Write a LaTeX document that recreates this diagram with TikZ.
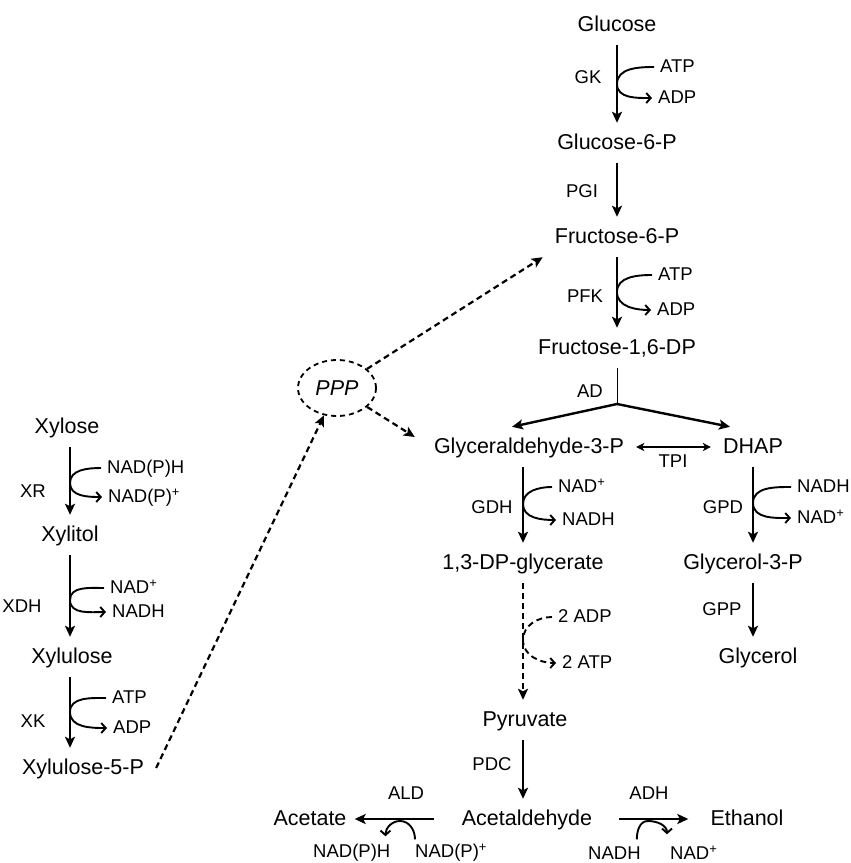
\documentclass[tikz,border=0pt]{standalone}
\usepackage{fontspec}
\setmainfont{Liberation Sans}
\usepackage{tikz}
\usetikzlibrary{arrows.meta,shapes.geometric}

\newcommand{\metsize}{\fontsize{21.5}{24}\selectfont}
\newcommand{\cofsize}{\fontsize{18.5}{21}\selectfont}
\newcommand{\ox}{\textsuperscript{+}}

\begin{document}
\begin{tikzpicture}[
  x=1pt, y=1pt,
  met/.style={font=\metsize, text height=16pt, text depth=4pt, inner xsep=12pt, inner ysep=10pt},
  enz/.style={font=\cofsize, text height=14pt, text depth=3pt, inner sep=1pt},
  cof/.style={font=\cofsize, text height=14pt, text depth=3pt, inner xsep=6pt, inner ysep=1pt, anchor=west},
  pppnode/.style={ellipse, draw, line width=1.8pt, dash pattern=on 5pt off 4pt, minimum width=78pt, minimum height=56pt, inner sep=0pt, font=\metsize\itshape},
  rxn/.style={-{Stealth[length=11pt,width=10pt,inset=2.5pt]}, line width=2.2pt},
  branch/.style={-{Stealth[length=11pt,width=10pt,inset=2.5pt]}, line width=2.4pt},
  side/.style={-{Straight Barb[length=4.5pt,width=10pt]}, line width=1.9pt},
  dasharr/.style={-{Stealth[length=11pt,width=10pt,inset=2.5pt]}, line width=2.2pt, dash pattern=on 6pt off 4pt},
  dashside/.style={-{Straight Barb[length=4.5pt,width=10pt]}, line width=1.9pt, dash pattern=on 6pt off 4pt}
]
\useasboundingbox (0,0) rectangle (851,-863);

% glycolysis
\node[met] (glc) at (617,-25) {Glucose};
\node[met] (g6p) at (617,-143) {Glucose-6-P};
\node[met] (f6p) at (617,-237) {Fructose-6-P};
\node[met] (f16) at (617,-348) {Fructose-1,6-DP};
\node[met] (ga3p) at (529,-447) {Glyceraldehyde-3-P};
\node[met] (dhap) at (753,-447) {DHAP};
\node[met] (bpg) at (523,-563) {1,3-DP-glycerate};
\node[met] (g3p) at (743,-563) {Glycerol-3-P};
\node[met] (glyc) at (758,-657) {Glycerol};
\node[met] (pyr) at (525,-720) {Pyruvate};
\node[met] (acald) at (527,-819) {Acetaldehyde};
\node[met] (acet) at (310,-819) {Acetate};
\node[met] (etoh) at (747,-819) {Ethanol};

% xylose
\node[met] (xyl) at (67,-427) {Xylose};
\node[met] (xol) at (70,-535) {Xylitol};
\node[met] (xlu) at (72,-657) {Xylulose};
\node[met] (x5p) at (83,-768) {Xylulose-5-P};

\node[pppnode] (ppp) at (337,-388) {PPP};

% enzymes
\node[enz] (gk) at (588,-78) {GK};
\node[enz] (pgi) at (582,-192) {PGI};
\node[enz] (pfk) at (585,-297) {PFK};
\node[enz] (ad) at (590,-392) {AD};
\node[enz] (tpi) at (673,-462) {TPI};
\node[enz] (gdh) at (492,-508) {GDH};
\node[enz] (gpd) at (723,-508) {GPD};
\node[enz] (gpp) at (722,-610) {GPP};
\node[enz] (pdc) at (492,-765) {PDC};
\node[enz] (ald) at (406,-794) {ALD};
\node[enz] (adh) at (649,-794) {ADH};
\node[enz] (xr) at (33,-492) {XR};
\node[enz] (xdh) at (22,-607) {XDH};
\node[enz] (xk) at (33,-722) {XK};

% cofactors
\node[cof] (gkatp) at (654,-67) {ATP};
\node[cof] (gkadp) at (652,-98) {ADP};
\node[cof] (pfkatp) at (652,-275) {ATP};
\node[cof] (pfkadp) at (651,-310) {ADP};
\node[cof] (gdhnad) at (552,-487) {NAD\ox};
\node[cof] (gdhnadh) at (556,-520) {NADH};
\node[cof] (gpdnadh) at (791,-487) {NADH};
\node[cof] (gpdnad) at (791,-518) {NAD\ox};
\node[cof] (pkadp) at (552,-617) {2 ADP};
\node[cof] (pkatp) at (556,-663) {2 ATP};
\node[cof] (xrnadph) at (101,-468) {NAD(P)H};
\node[cof] (xrnadp) at (102,-497) {NAD(P)\ox};
\node[cof] (xdhnad) at (104,-588) {NAD\ox};
\node[cof] (xdhnadh) at (106,-612) {NADH};
\node[cof] (xkatp) at (106,-698) {ATP};
\node[cof] (xkadp) at (107,-728) {ADP};
\node[cof] (aldnadph) at (307,-852) {NAD(P)H};
\node[cof] (aldnadp) at (409,-852) {NAD(P)\ox};
\node[cof] (adhnadh) at (582,-854) {NADH};
\node[cof] (adhnad) at (664,-854) {NAD\ox};

% main reactions
\draw[rxn] (glc) -- (g6p);
\draw[rxn] (g6p) -- (f6p);
\draw[rxn] (f6p) -- (f16);
\coordinate (adx) at (617,-404);
\draw[line width=1pt] (f16) -- (adx);
\draw[branch] (adx) -- ([xshift=-17pt]ga3p.north);
\draw[branch] (adx) -- ([xshift=-23pt]dhap.north);
\draw[{Stealth[length=8pt,width=8pt,inset=2pt]}-{Stealth[length=8pt,width=8pt,inset=2pt]}, line width=1.5pt] (ga3p) -- (dhap);
\draw[rxn] (ga3p.south -| bpg) -- (bpg);
\draw[rxn] (dhap.south) -- (dhap.south |- g3p.north);
\draw[rxn] (g3p.south -| dhap) -- (glyc.north -| dhap);
\draw[dasharr] (bpg) -- (pyr.north -| bpg);
\draw[rxn] (pyr.south -| bpg) -- (acald.north -| bpg);
\draw[rxn, shorten <=16pt, shorten >=-4pt] (acald) -- (acet);
\draw[rxn, shorten <=15pt, shorten >=10pt] (acald) -- (etoh);
\draw[rxn] (xyl.south -| xol) -- (xol);
\draw[rxn] (xol) -- (xlu.north -| xol);
\draw[rxn] (xlu.south -| xol) -- (x5p.north -| xol);

% pentose phosphate links
\draw[dasharr] (x5p.east) -- (ppp);
\draw[dasharr] (ppp) -- (f6p.south west);
\draw[dasharr] (ppp) -- ([xshift=-7pt,yshift=10pt]ga3p.west);

% side reactions
\draw[side] (gkatp.west) to[out=180,in=90] (617,-84) to[out=-90,in=180] (gkadp.west);
\draw[side] (pfkatp.west) to[out=180,in=90] (617,-292) to[out=-90,in=180] (pfkadp.west);
\draw[side] (gdhnad.west) to[out=180,in=90] (523,-504) to[out=-90,in=180] (gdhnadh.west);
\draw[side] (gpdnadh.west) to[out=180,in=90] (753,-503) to[out=-90,in=180] (gpdnad.west);
\draw[dashside] (pkadp.west) to[out=180,in=90] (523,-640) to[out=-90,in=180] (pkatp.west);
\draw[side] (xrnadph.west) to[out=180,in=90] (70,-483) to[out=-90,in=180] (xrnadp.west);
\draw[side] (xdhnad.west) to[out=180,in=90] (70,-600) to[out=-90,in=180] (xdhnadh.west);
\draw[side] (xkatp.west) to[out=180,in=90] (70,-712) to[out=-90,in=180] (xkadp.west);
\draw[side] ([shift={(6pt,3pt)}]aldnadp.north west) to[out=90,in=0] (400,-821) to[out=180,in=90] ([shift={(-11pt,6pt)}]aldnadph.north east);
\draw[side] ([shift={(-10pt,5pt)}]adhnadh.north east) to[out=90,in=180] (648,-821) to[out=0,in=90] ([shift={(3pt,10pt)}]adhnad.north west);
\end{tikzpicture}
\end{document}
